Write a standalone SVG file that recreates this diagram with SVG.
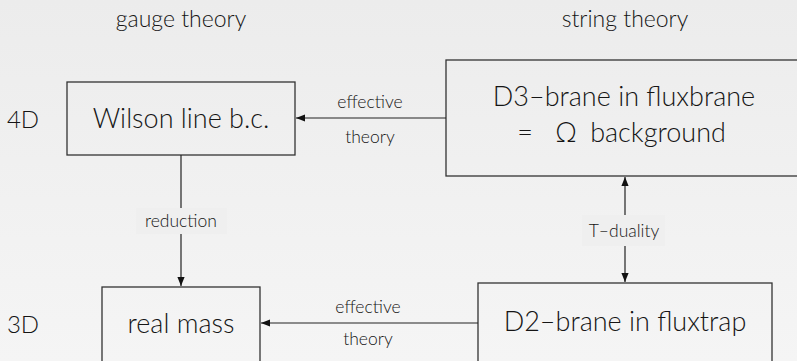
<svg xmlns="http://www.w3.org/2000/svg" width="797" height="361" viewBox="0 0 797 361">
<defs>
<linearGradient id="bg" x1="0" y1="0" x2="0" y2="1">
<stop offset="0" stop-color="#ececec"/>
<stop offset="1" stop-color="#f5f5f5"/>
</linearGradient>
<marker id="ah" viewBox="0 0 10 10" refX="10" refY="5" markerWidth="9" markerHeight="10" markerUnits="userSpaceOnUse" orient="auto-start-reverse">
<path d="M0,1 L10,5 L0,9 z" fill="#111"/>
</marker>
<style>
text{font-family:Lato,"Open Sans","Liberation Sans",sans-serif;font-weight:300;fill:#151515;text-anchor:middle}
.box{fill:none;stroke:#333;stroke-width:1.3}
.hd{font-size:23px}
.dm{font-size:24px}
.nd{font-size:27px}
.lb{font-size:17.5px}
.conn{stroke:#222;stroke-width:1.2;fill:none}
.lbg{fill:#efefef}
</style>
</defs>
<rect width="797" height="361" fill="url(#bg)"/>
<g id="headers">
<text class="hd" x="181" y="27">gauge theory</text>
<text class="hd" x="625" y="27">string theory</text>
<text class="dm" x="23" y="128">4D</text>
<text class="dm" x="23" y="333">3D</text>
</g>
<g id="wilson">
<rect class="box" x="67" y="82" width="228" height="73"/>
<text class="nd" x="181" y="128">Wilson line b.c.</text>
</g>
<g id="d3">
<rect class="box" x="446" y="60" width="360" height="116"/>
<text class="nd" x="624" y="106">D3–brane in fluxbrane</text>
<text class="nd" y="142"><tspan x="525">=</tspan><tspan x="566">Ω</tspan><tspan x="658">background</tspan></text>
</g>
<g id="realmass">
<rect class="box" x="102" y="287" width="158" height="80"/>
<text class="nd" x="181" y="333">real mass</text>
</g>
<g id="d2">
<rect class="box" x="478" y="283" width="294" height="90"/>
<text class="nd" x="625" y="331">D2–brane in fluxtrap</text>
</g>
<g id="connectors">
<line class="conn" x1="446" y1="118" x2="296" y2="118" marker-end="url(#ah)"/>
<text class="lb" x="370" y="108">effective</text>
<text class="lb" x="370" y="143">theory</text>
<line class="conn" x1="181" y1="155" x2="181" y2="286" marker-end="url(#ah)"/>
<rect class="lbg" x="136" y="208" width="91" height="26"/>
<text class="lb" x="181" y="227">reduction</text>
<line class="conn" x1="625" y1="177" x2="625" y2="282" marker-start="url(#ah)" marker-end="url(#ah)"/>
<rect class="lbg" x="582" y="215" width="83" height="31"/>
<text class="lb" x="624" y="237">T–duality</text>
<line class="conn" x1="478" y1="323" x2="261" y2="323" marker-end="url(#ah)"/>
<text class="lb" x="368" y="313">effective</text>
<text class="lb" x="368" y="345">theory</text>
</g>
</svg>
